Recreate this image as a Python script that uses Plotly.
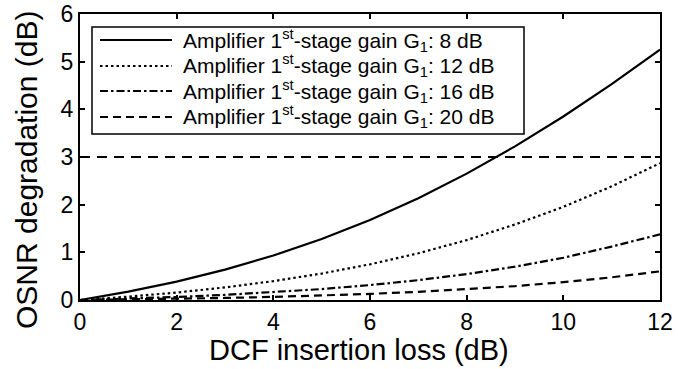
import plotly.graph_objects as go

# DCF insertion loss (dB)
loss = [0, 1, 2, 3, 4, 5, 6, 7, 8, 9, 10, 11, 12]
# OSNR degradation (dB) for each 1st-stage gain
deg_g8 = [0, 0.175, 0.385, 0.636, 0.933, 1.280, 1.679, 2.137, 2.651, 3.222, 3.849, 4.528, 5.254]
deg_g12 = [0, 0.070, 0.157, 0.264, 0.396, 0.555, 0.749, 0.980, 1.257, 1.584, 1.954, 2.384, 2.871]
deg_g16 = [0, 0.028, 0.063, 0.107, 0.162, 0.229, 0.313, 0.417, 0.543, 0.699, 0.886, 1.121, 1.378]
deg_g20 = [0, 0.011, 0.025, 0.043, 0.065, 0.093, 0.128, 0.171, 0.225, 0.291, 0.374, 0.476, 0.601]
threshold = 3
gains = ["8", "12", "16", "20"]
dashes = ["solid", "2.5px,3px", "8px,3px,2.5px,3px", "8px,5px"]
series = [deg_g8, deg_g12, deg_g16, deg_g20]
x_title = "DCF insertion loss (dB)"
y_title = "OSNR degradation (dB)"

FONT = "Liberation Sans, Arial, sans-serif"
L, R, T, B = 80, 18, 14, 69
W, H = 678, 369
PW, PH = W - L - R, H - T - B


def px_x(px):
    return (px - L) / PW


def px_y(py):
    return (H - B - py) / PH


fig = go.Figure()
for g, d, ys in zip(gains, dashes, series):
    fig.add_trace(go.Scatter(x=loss, y=ys, mode="lines",
                             line=dict(color="black", width=2.2, dash=d),
                             showlegend=False))
fig.add_trace(go.Scatter(x=[loss[0], loss[-1]], y=[threshold, threshold], mode="lines",
                         line=dict(color="black", width=2.2, dash="10px,7px"),
                         showlegend=False))

# custom legend
shapes = []
annotations = []
shapes.append(dict(type="rect", xref="paper", yref="paper", x0=px_x(92), x1=px_x(524),
                   y0=px_y(134), y1=px_y(27), line=dict(color="black", width=1.5),
                   fillcolor="white", layer="above"))
row_px = [40, 66, 91, 117]
for g, d, py in zip(gains, dashes, row_px):
    yp = px_y(py)
    shapes.append(dict(type="line", xref="paper", yref="paper",
                       x0=px_x(100), x1=px_x(172), y0=yp, y1=yp,
                       line=dict(color="black", width=2.2, dash=d), layer="above"))
    annotations.append(dict(xref="paper", yref="paper", x=px_x(181), y=yp,
                            xanchor="left", yanchor="middle", showarrow=False,
                            text=f"Amplifier 1<sup>st</sup>-stage gain G<sub>1</sub>: {g} dB",
                            font=dict(family=FONT, size=21, color="black")))

# axis titles
annotations.append(dict(xref="paper", yref="paper", x=px_x(359), y=px_y(350),
                        xanchor="center", yanchor="middle", showarrow=False,
                        text=x_title, font=dict(family=FONT, size=29, color="black")))
annotations.append(dict(xref="paper", yref="paper", x=px_x(26), y=px_y(170),
                        xanchor="center", yanchor="middle", showarrow=False, textangle=-90,
                        text=y_title, font=dict(family=FONT, size=30, color="black")))

axis_common = dict(ticks="inside", ticklen=5, tickwidth=1.5, tickcolor="black",
                   showline=True, linecolor="black", linewidth=2, mirror="ticks",
                   showgrid=False, zeroline=False, automargin=False,
                   tickfont=dict(size=23, family=FONT))

fig.update_layout(
    width=W, height=H,
    margin=dict(l=L, r=R, t=T, b=B),
    paper_bgcolor="white", plot_bgcolor="white",
    font=dict(family=FONT, color="black"),
    shapes=shapes, annotations=annotations,
    xaxis=dict(range=[0, 12], tickvals=[0, 2, 4, 6, 8, 10, 12], **axis_common),
    yaxis=dict(range=[0, 6], tickvals=[0, 1, 2, 3, 4, 5, 6], **axis_common),
)

fig.write_html("out.html")
